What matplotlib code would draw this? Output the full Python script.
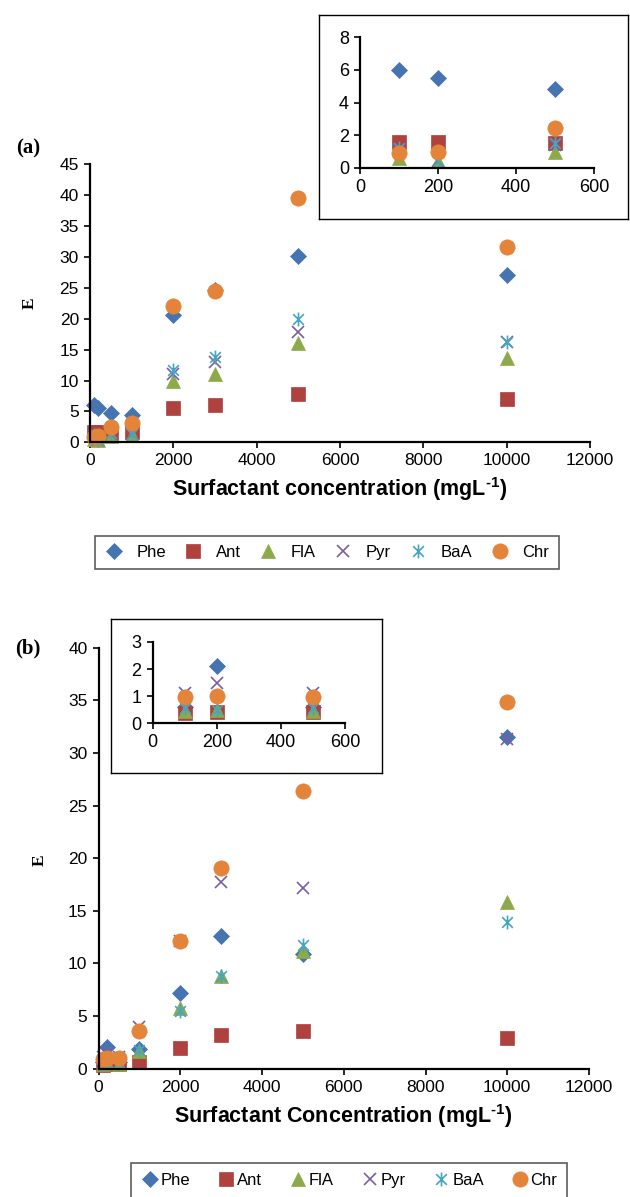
import matplotlib
matplotlib.use("Agg")
import matplotlib.pyplot as plt
from matplotlib.path import Path

plt.rcParams['font.family'] = ['Liberation Sans', 'DejaVu Sans']
plt.rcParams['mathtext.fontset'] = 'custom'
plt.rcParams['mathtext.rm'] = 'Liberation Sans'
plt.rcParams['mathtext.bf'] = 'Liberation Sans:bold'

# surfactant concentrations (mg/L)
conc = [100, 200, 500, 1000, 2000, 3000, 5000, 10000]

# panel (a)
phe_a = [6.0, 5.5, 4.8, 4.4, 20.6, 24.7, 30.1, 27.1]
ant_a = [1.6, 1.6, 1.5, 1.7, 5.6, 6.0, 7.8, 7.0]
fla_a = [0.6, 0.4, 1.0, 1.2, 10.0, 11.1, 16.0, 13.7]
pyr_a = [1.1, 0.4, 1.4, 1.3, 11.1, 13.0, 17.9, 16.2]
baa_a = [1.2, 0.45, 1.5, 1.3, 11.7, 13.8, 19.9, 16.2]
chr_a = [0.9, 1.0, 2.45, 3.05, 22.0, 24.5, 39.5, 31.6]

# panel (b)
phe_b = [0.6, 2.1, 0.6, 1.9, 7.2, 12.6, 10.9, 31.5]
ant_b = [0.37, 0.43, 0.4, 0.6, 2.0, 3.2, 3.6, 2.9]
fla_b = [0.45, 0.5, 0.45, 1.7, 5.8, 8.8, 11.2, 15.8]
pyr_b = [1.1, 1.48, 1.1, 4.0, 12.1, 17.7, 17.2, 31.3]
baa_b = [0.55, 0.5, 0.55, 1.8, 5.5, 8.8, 11.8, 13.9]
chr_b = [0.96, 1.0, 0.97, 3.6, 12.1, 19.1, 26.4, 34.8]

names = ["Phe", "Ant", "FlA", "Pyr", "BaA", "Chr"]

# asterisk marker like the spreadsheet one (x with a vertical bar)
star = Path([(-1, -1), (1, 1), (-1, 1), (1, -1), (0, -1.3), (0, 1.3)],
            [Path.MOVETO, Path.LINETO, Path.MOVETO, Path.LINETO, Path.MOVETO, Path.LINETO])

styles = [
    dict(marker="D", color="#4674B0", ms=8.5),
    dict(marker="s", color="#AF423F", ms=10),
    dict(marker="^", color="#8DAA4A", ms=10.5),
    dict(marker="x", color="#7B5EA0", ms=9, mew=1.2),
    dict(marker=star, color="#45A6C2", ms=10, mew=1.2),
    dict(marker="o", color="#E3843A", ms=11),
]


def draw(ax, series):
    handles = []
    for vals, st, nm in zip(series, styles, names):
        h, = ax.plot(conc, vals, linestyle="none", marker=st["marker"],
                     color=st["color"], markersize=st["ms"],
                     markeredgewidth=st.get("mew", 0.5), label=nm)
        handles.append(h)
    return handles


def style_axes(ax, fs=12.5):
    for s in ["top", "right"]:
        ax.spines[s].set_visible(False)
    for s in ["left", "bottom"]:
        ax.spines[s].set_linewidth(1.6)
    ax.tick_params(direction="out", length=4, width=1.2, labelsize=fs, pad=4)
    ax.set_facecolor("none")


fig = plt.figure(figsize=(6.3, 11.97), dpi=100)
W, H = 630.0, 1197.0


def fax(x0, y0, x1, y1):
    # pixel box (top-left origin) -> figure fraction rect
    return [x0 / W, 1 - y1 / H, (x1 - x0) / W, (y1 - y0) / H]


# ---------- panel (a) ----------
ax_a = fig.add_axes(fax(90, 164.3, 590, 442.3))
hs = draw(ax_a, [phe_a, ant_a, fla_a, pyr_a, baa_a, chr_a])
ax_a.set_xlim(0, 12000)
ax_a.set_ylim(0, 45)
ax_a.set_xticks(range(0, 12001, 2000))
ax_a.set_yticks(range(0, 46, 5))
for h in hs:
    h.set_clip_on(False)
style_axes(ax_a)
ax_a.set_xlabel("Surfactant concentration (mgL$^{\\mathbf{\u2010 1}}$)", fontsize=15.5,
                fontweight="bold", labelpad=5)

box_a = fig.add_axes(fax(319, 15, 628, 219))
box_a.set_xticks([])
box_a.set_yticks([])
for s in box_a.spines.values():
    s.set_linewidth(1.0)

in_a = fig.add_axes(fax(360, 37, 594, 168))
hi = draw(in_a, [phe_a, ant_a, fla_a, pyr_a, baa_a, chr_a])
in_a.set_xlim(0, 600)
in_a.set_ylim(0, 8)
in_a.set_xticks([0, 200, 400, 600])
in_a.set_yticks([0, 2, 4, 6, 8])
style_axes(in_a, fs=13)
for ln in in_a.lines:
    ln.set_clip_on(False)
    ln.set_markevery([0, 1, 2])

fig.text(28 / W, 1 - 148 / H, "(a)", fontsize=15, fontweight="bold",
         family="Liberation Serif", ha="center", va="center")
fig.text(30 / W, 1 - 303 / H, "E", fontsize=12.5, fontweight="bold",
         family="Liberation Serif", ha="center", va="center", rotation=90)

leg_a = fig.legend(handles=hs, loc="center", ncol=6,
                   bbox_to_anchor=(327 / W, 1 - 552.5 / H), fontsize=12,
                   frameon=True, fancybox=False, edgecolor="#333333",
                   handletextpad=0.8, columnspacing=1.1, handlelength=1.1,
                   borderpad=0.55)
leg_a.get_frame().set_linewidth(1.2)

# ---------- panel (b) ----------
ax_b = fig.add_axes(fax(98.5, 647.7, 589, 1068.7))
hb = draw(ax_b, [phe_b, ant_b, fla_b, pyr_b, baa_b, chr_b])
for h in hb:
    h.set_clip_on(False)
ax_b.set_xlim(0, 12000)
ax_b.set_ylim(0, 40)
ax_b.set_xticks(range(0, 12001, 2000))
ax_b.set_yticks(range(0, 41, 5))
style_axes(ax_b)
ax_b.set_xlabel("Surfactant Concentration (mgL$^{\\mathbf{\u2010 1}}$)", fontsize=15.5,
                fontweight="bold", labelpad=5)

box_b = fig.add_axes(fax(111, 619, 382, 773))
box_b.set_xticks([])
box_b.set_yticks([])
for s in box_b.spines.values():
    s.set_linewidth(1.0)

in_b = fig.add_axes(fax(152.7, 642, 345, 723.3))
draw(in_b, [phe_b, ant_b, fla_b, pyr_b, baa_b, chr_b])
in_b.set_xlim(0, 600)
in_b.set_ylim(0, 3)
in_b.set_xticks([0, 200, 400, 600])
in_b.set_yticks([0, 1, 2, 3])
style_axes(in_b, fs=13)
for ln in in_b.lines:
    ln.set_clip_on(False)
    ln.set_markevery([0, 1, 2])

fig.text(28 / W, 1 - 648 / H, "(b)", fontsize=15, fontweight="bold",
         family="Liberation Serif", ha="center", va="center")
fig.text(40 / W, 1 - 860 / H, "E", fontsize=12.5, fontweight="bold",
         family="Liberation Serif", ha="center", va="center", rotation=90)

leg_b = fig.legend(handles=hb, loc="upper center", ncol=6,
                   bbox_to_anchor=(349 / W, 1 - 1163 / H), fontsize=12,
                   frameon=True, fancybox=False, edgecolor="#333333",
                   handletextpad=0.1, columnspacing=1.6, handlelength=1.1,
                   borderpad=0.6, borderaxespad=0)
leg_b.get_frame().set_linewidth(1.2)

fig.savefig("out.png", dpi=100)
